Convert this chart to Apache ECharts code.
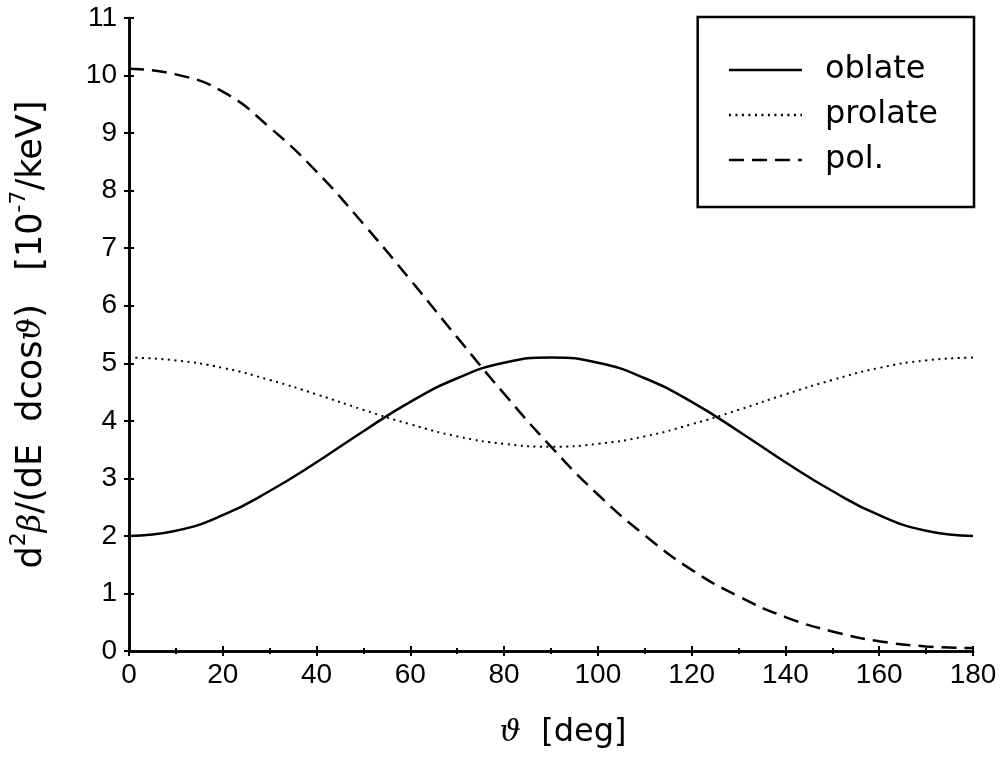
<!DOCTYPE html>
<html>
<head>
<meta charset="utf-8">
<script src="https://cdn.jsdelivr.net/npm/echarts@6/dist/echarts.min.js"></script>
<style>html,body{margin:0;padding:0;background:#fff;}#c{width:1005px;height:759px;}</style>
</head>
<body>
<div id="c"></div>
<script>
const theta = [0,10,20,30,40,50,60,70,80,90,100,110,120,130,140,150,160,170,180];
const oblate = [2.0,2.09,2.36,2.78,3.28,3.82,4.33,4.74,5.01,5.1,5.01,4.74,4.33,3.82,3.28,2.78,2.36,2.09,2.0];
const prolate = [5.1,5.05,4.92,4.71,4.46,4.19,3.94,3.73,3.60,3.55,3.60,3.73,3.94,4.19,4.46,4.71,4.92,5.05,5.1];
const pol = [10.12,10.02,9.72,9.1,8.33,7.42,6.45,5.45,4.47,3.55,2.72,2.01,1.41,0.95,0.59,0.34,0.17,0.08,0.05];
const xTicks = [0,20,40,60,80,100,120,140,160,180];
const yTicks = [0,1,2,3,4,5,6,7,8,9,10,11];
const seriesNames = ['oblate','prolate','pol.'];

const pair = (ys) => theta.map((t,i)=>[t, ys[i]]);
const font = 'Liberation Sans';
const wide = 'DejaVu Sans';
const chart = echarts.init(document.getElementById('c'));
const axisCommon = {
  axisLine:{lineStyle:{color:'#000', width:2.5}},
  axisTick:{inside:true, length:5, lineStyle:{color:'#000', width:2}},
  minorTick:{show:true, splitNumber:2, length:3, lineStyle:{color:'#000', width:2}},
  splitLine:{show:false}
};
chart.setOption({
  animation:false,
  backgroundColor:'#fff',
  textStyle:{fontFamily:font},
  grid:{left:129, right:32, top:18, bottom:108, show:false},
  legend:{
    orient:'vertical', right:31, top:17,
    data:seriesNames,
    backgroundColor:'#fff', borderColor:'#000', borderWidth:2.5,
    padding:[35, 36, 29, 30],
    itemWidth:73, itemHeight:14, itemGap:9,
    itemStyle:{opacity:0},
    lineStyle:{width:2.5},
    textStyle:{fontFamily:wide, fontSize:32, color:'#000', padding:[0,0,0,18], lineHeight:36}
  },
  xAxis:[{
    type:'value', min:0, max:180, interval:20,
    name:'{it|ϑ}  [deg]', nameLocation:'middle', nameGap:66,
    nameTextStyle:{fontFamily:wide, fontSize:32, color:'#000', padding:[0,0,0,24],
      rich:{it:{fontFamily:'DejaVu Serif', fontStyle:'italic', fontSize:30, color:'#000'}}},
    axisLabel:{fontFamily:font, fontSize:28, color:'#000', margin:10, formatter:(v)=>xTicks.includes(v)?String(v):''},
    ...axisCommon
  },{
    type:'value', position:'top', min:0, max:180, interval:20,
    axisLabel:{show:false}, ...axisCommon
  }],
  yAxis:[{
    type:'value', min:0, max:11, interval:1,
    name:'d{sup|2}{it|β}/(dE  dcos{it|ϑ})   [10{sup|-7}/keV]', nameLocation:'middle', nameGap:73, nameRotate:90,
    nameTextStyle:{fontFamily:wide, fontSize:35, color:'#000', lineHeight:48,
      rich:{
        it:{fontFamily:'DejaVu Serif', fontStyle:'italic', fontSize:32, color:'#000', lineHeight:48},
        sup:{fontFamily:wide, fontSize:22, color:'#000', verticalAlign:'top', lineHeight:20}
      }},
    axisLabel:{fontFamily:font, fontSize:28, color:'#000', margin:12, formatter:(v)=>yTicks.includes(v)?String(v):''},
    ...axisCommon,
    minorTick:{show:false}
  },{
    type:'value', position:'right', min:0, max:11, interval:1,
    axisLabel:{show:false}, ...axisCommon, minorTick:{show:false}
  }],
  series:[
    {name:'oblate', type:'line', smooth:true, symbol:'none', data:pair(oblate),
     lineStyle:{color:'#000', width:2.5, type:'solid'}, itemStyle:{color:'#000'}},
    {name:'prolate', type:'line', smooth:true, symbol:'none', data:pair(prolate),
     lineStyle:{color:'#000', width:2, type:[2,4.5]}, itemStyle:{color:'#000'}},
    {name:'pol.', type:'line', smooth:true, symbol:'none', data:pair(pol),
     lineStyle:{color:'#000', width:2.5, type:[15,8]}, itemStyle:{color:'#000'}}
  ]
});
</script>
</body>
</html>
